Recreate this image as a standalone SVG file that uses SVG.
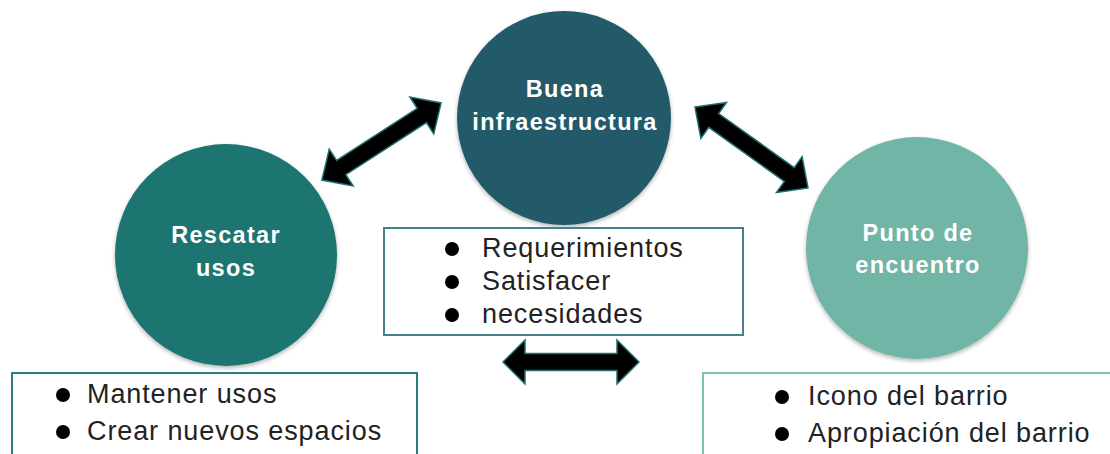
<svg xmlns="http://www.w3.org/2000/svg" width="1110" height="454" viewBox="0 0 1110 454">
<defs>
<style>
.lbl{font-family:"Liberation Sans",Arial,sans-serif;font-weight:bold;font-size:23.5px;letter-spacing:1.3px;fill:#fff;text-anchor:middle}
.txt{font-family:"Liberation Sans",Arial,sans-serif;font-size:27px;letter-spacing:0.9px;fill:#222}
.bul{fill:#000}
.arr{fill:#000;stroke:#1f6f70;stroke-width:1.5;stroke-linejoin:miter}
.box{fill:#fff;stroke-width:2}
</style>
<filter id="sh" x="-20%" y="-20%" width="140%" height="140%">
<feGaussianBlur in="SourceAlpha" stdDeviation="2"/>
<feOffset dx="0" dy="2"/>
<feComponentTransfer><feFuncA type="linear" slope="0.3"/></feComponentTransfer>
<feMerge><feMergeNode/><feMergeNode in="SourceGraphic"/></feMerge>
</filter>
</defs>
<rect width="1110" height="454" fill="#fff"/>
<g id="connectors">
<polygon class="arr" transform="translate(381.5,141.5) rotate(-32.9)" points="-71,0 -48,-22 -48,-8.5 48,-8.5 48,-22 71,0 48,22 48,8.5 -48,8.5 -48,22"/>
<polygon class="arr" transform="translate(751.5,147.5) rotate(35.6)" points="-69.5,0 -46.5,-22 -46.5,-8.5 46.5,-8.5 46.5,-22 69.5,0 46.5,22 46.5,8.5 -46.5,8.5 -46.5,22"/>
<polygon class="arr" transform="translate(571,362)" points="-68,0 -46,-22 -46,-8.5 46,-8.5 46,-22 68,0 46,22 46,8.5 -46,8.5 -46,22"/>
</g>
<g id="node-infra">
<circle cx="564" cy="118" r="107" fill="#245a6a" filter="url(#sh)"/>
<text class="lbl" x="565" y="97">Buena</text>
<text class="lbl" x="565" y="130">infraestructura</text>
</g>
<g id="node-rescatar">
<circle cx="226" cy="255" r="111" fill="#1b7471" filter="url(#sh)"/>
<text class="lbl" x="226" y="243">Rescatar</text>
<text class="lbl" x="226" y="276">usos</text>
</g>
<g id="node-punto">
<circle cx="917" cy="248" r="111" fill="#6fb5a5" filter="url(#sh)"/>
<text class="lbl" x="918" y="241">Punto de</text>
<text class="lbl" x="918" y="273">encuentro</text>
</g>
<g id="box-infra">
<rect class="box" x="384" y="228" width="359" height="107" stroke="#457f8c"/>
<circle class="bul" cx="452" cy="249" r="7"/>
<text class="txt" x="482" y="257">Requerimientos</text>
<circle class="bul" cx="452" cy="282" r="7"/>
<text class="txt" x="482" y="290">Satisfacer</text>
<circle class="bul" cx="452" cy="315" r="7"/>
<text class="txt" x="482" y="323">necesidades</text>
</g>
<g id="box-rescatar">
<rect class="box" x="12" y="373" width="405" height="90" stroke="#2a7f7c"/>
<circle class="bul" cx="63" cy="395" r="7"/>
<text class="txt" x="87" y="403">Mantener usos</text>
<circle class="bul" cx="63" cy="432" r="7"/>
<text class="txt" x="87" y="440">Crear nuevos espacios</text>
</g>
<g id="box-punto">
<rect class="box" x="703" y="373" width="415" height="90" stroke="#7cc3b1"/>
<circle class="bul" cx="782" cy="397" r="7"/>
<text class="txt" x="808" y="405">Icono del barrio</text>
<circle class="bul" cx="782" cy="434" r="7"/>
<text class="txt" x="808" y="442">Apropiación del barrio</text>
</g>
</svg>
